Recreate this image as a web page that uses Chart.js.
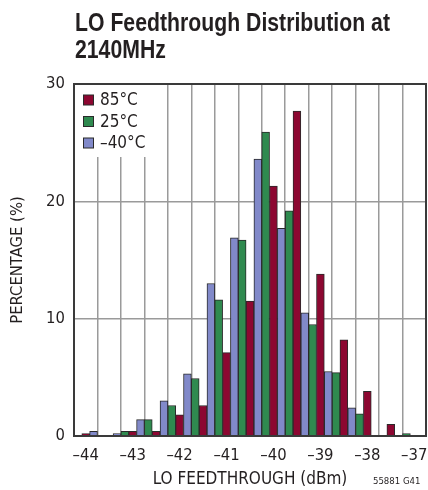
<!DOCTYPE html>
<html>
<head>
<meta charset="utf-8">
<script src="https://cdn.jsdelivr.net/npm/chart.js@4"></script>
<style>
  body { margin: 0; background: #fff; overflow: hidden; }
  #wrap { position: relative; width: 428px; height: 490px; }
  #title {
    position: absolute; left: 75px; top: 9px;
    font: bold 26px 'Liberation Sans', Arial, sans-serif;
    line-height: 27px; color: #231f20;
    white-space: nowrap; transform-origin: 0 0;
  }
  #code {
    position: absolute; left: 373px; top: 475px;
    font: 9.5px 'DejaVu Sans Condensed', sans-serif; color: #231f20;
    white-space: nowrap;
  }
</style>
</head>
<body>
<div id="wrap">
  <canvas id="c" width="428" height="490"></canvas>
  <div id="title"><span id="t1">LO Feedthrough Distribution at</span><br>2140MHz</div>
  <div id="code">55881 G41</div>
</div>
<script>
// bin centres, dBm (0.5 dBm grid cells)
const bins = [-44, -43.5, -43, -42.5, -42, -41.5, -41, -40.5, -40, -39.5, -39, -38.5, -38, -37.5, -37];
// percentage per cell, as drawn left to right inside each cell
const pct25 = [0, 0, 0.4, 1.4, 2.6, 4.9, 11.6, 16.7, 25.9, 19.2, 9.5, 5.4, 1.9, 0, 0.2];
const pct85 = [0.2, 0, 0.4, 0.4, 1.8, 2.6, 7.1, 11.5, 21.3, 27.7, 13.8, 8.2, 3.8, 1.0, 0];
const pctM40 = [0.4, 0.2, 1.4, 3.0, 5.3, 13.0, 16.9, 23.6, 17.7, 10.5, 5.5, 2.4, 0, 0, 0];
const yTicks = [0, 10, 20, 30];

const FONT = "'DejaVu Sans Condensed', sans-serif";
const INK = '#231f20';

// squeeze the bold title to the condensed width of the original
const t1 = document.getElementById('t1');
document.getElementById('title').style.transform = 'scaleX(' + (315 / t1.getBoundingClientRect().width) + ')';

const legendOrder = ['85°C', '25°C', '–40°C'];

const boxPlugin = {
    id: 'boxPlugin',
    afterDraw(chart) {
        const ctx = chart.ctx;
        const a = chart.chartArea;
        ctx.save();
        // legend panel
        ctx.fillStyle = '#fff';
        ctx.fillRect(a.left + 1, a.top + 1, 80, 72);
        ctx.font = '17px ' + FONT;
        ctx.textBaseline = 'middle';
        legendOrder.forEach((name, i) => {
            const ds = chart.data.datasets.find(d => d.label === name);
            const y = a.top + 16 + i * 21.5;
            ctx.fillStyle = ds.backgroundColor;
            ctx.fillRect(a.left + 9.5, y - 5, 10, 10);
            ctx.strokeStyle = '#2a2a2a';
            ctx.lineWidth = 1;
            ctx.strokeRect(a.left + 9.5, y - 5, 10, 10);
            ctx.fillStyle = INK;
            ctx.fillText(name, a.left + 26, y + 1);
        });
        // frame
        ctx.strokeStyle = '#3a3a3a';
        ctx.lineWidth = 2;
        ctx.strokeRect(a.left, a.top, a.right - a.left, a.bottom - a.top);
        ctx.restore();
    }
};

new Chart(
    document.getElementById('c').getContext('2d'),
    {
        type: 'bar',
        data: {
            labels: bins,
            datasets: [
                { label: '25°C', data: pct25, backgroundColor: '#2f8a4f' },
                { label: '85°C', data: pct85, backgroundColor: '#8c0731' },
                { label: '–40°C', data: pctM40, backgroundColor: '#8189c9' }
            ].map(d => Object.assign(d, {
                borderColor: '#2a2a2a',
                borderWidth: 1,
                barPercentage: 1,
                categoryPercentage: 1
            }))
        },
        options: {
            responsive: false,
            animation: false,
            layout: { padding: { top: 84, right: 2, left: 0, bottom: 0 } },
            plugins: {
                legend: { display: false },
                title: { display: false },
                tooltip: { enabled: false }
            },
            scales: {
                x: {
                    afterFit(s) { s.height = 54; s.paddingLeft = 0; s.paddingRight = 0; },
                    grid: { color: '#9a9a9a', lineWidth: 1.5, drawTicks: false, offset: true },
                    border: { display: false },
                    ticks: {
                        autoSkip: false,
                        maxRotation: 0,
                        padding: 10,
                        color: INK,
                        font: { family: FONT, size: 16.5 },
                        callback(v, i) {
                            const b = bins[i];
                            return Number.isInteger(b) ? '–' + Math.abs(b) : '';
                        }
                    },
                    title: {
                        display: true,
                        text: 'LO FEEDTHROUGH (dBm)',
                        color: INK,
                        font: { family: FONT, size: 17 },
                        padding: { top: 3, bottom: 0 }
                    }
                },
                y: {
                    min: 0,
                    max: 30,
                    afterFit(s) { s.width = 74; s.paddingTop = 0; s.paddingBottom = 0; },
                    afterBuildTicks(s) { s.ticks = yTicks.map(v => ({ value: v })); },
                    grid: { color: '#9a9a9a', lineWidth: 1.5, drawTicks: false },
                    border: { display: false },
                    ticks: {
                        padding: 9,
                        color: INK,
                        font: { family: FONT, size: 16.5 }
                    },
                    title: {
                        display: true,
                        text: 'PERCENTAGE (%)',
                        color: INK,
                        font: { family: FONT, size: 16.5 },
                        padding: { top: 8, bottom: 0 }
                    }
                }
            }
        },
        plugins: [boxPlugin]
    }
);
</script>
</body>
</html>
